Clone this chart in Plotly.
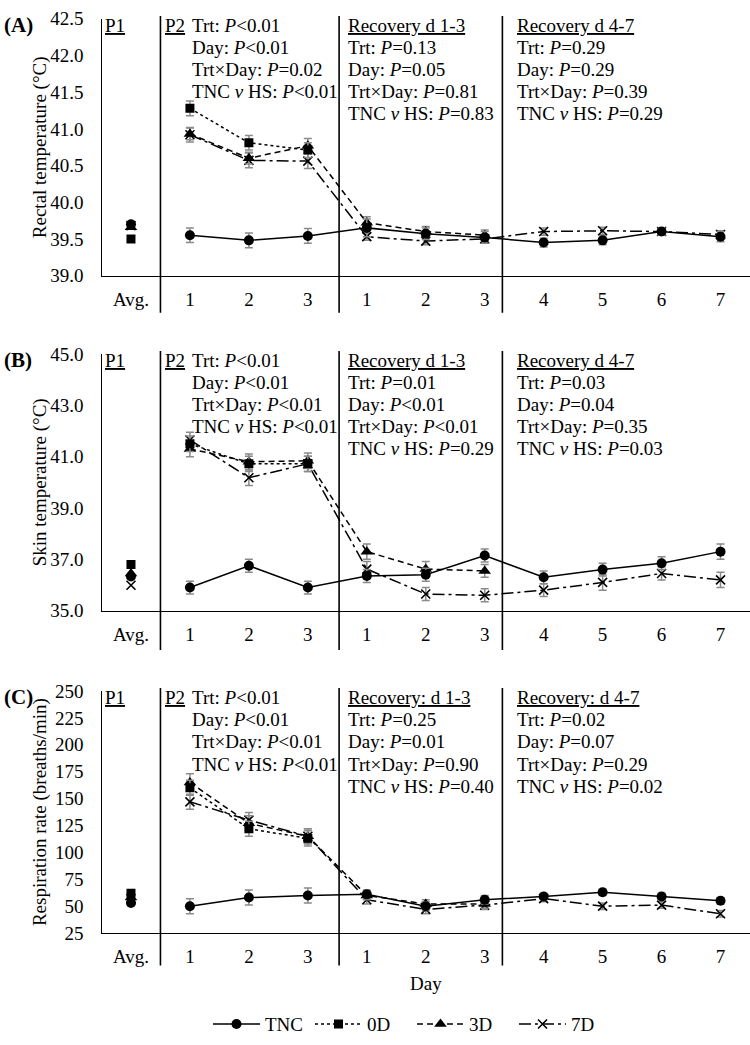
import plotly.graph_objects as go

W, H = 750, 1045
FONT = "Liberation Serif"

# ---------------- data ----------------
x_labels = ["Avg.", "1", "2", "3", "1", "2", "3", "4", "5", "6", "7"]
series_names = ["TNC", "0D", "3D", "7D"]

# Panel A - rectal temperature (°C)
rectal_p1 = [39.70, 39.50, 39.66, 39.68]          # TNC, 0D, 3D, 7D period-1 averages
rectal_tnc = [39.55, 39.48, 39.54, 39.65, 39.57, 39.52, 39.45, 39.48, 39.60, 39.53]
rectal_0d = [41.28, 40.81, 40.71]
rectal_3d = [40.93, 40.60, 40.77, 39.72, 39.60, 39.55]
rectal_7d = [40.92, 40.57, 40.56, 39.53, 39.47, 39.50, 39.60, 39.61, 39.60, 39.56]
rectal_tnc_se = [0.10, 0.10, 0.10, 0.12, 0.08, 0.08, 0.06, 0.06, 0.05, 0.07]
rectal_0d_se = [0.10, 0.10, 0.10]
rectal_3d_se = [0.08, 0.08, 0.10, 0.08, 0.07, 0.07]
rectal_7d_se = [0.10, 0.10, 0.10, 0.05, 0.05, 0.05, 0.05, 0.05, 0.05, 0.05]

# Panel B - skin temperature (°C)
skin_p1 = [36.33, 36.80, 36.45, 35.99]
skin_tnc = [35.90, 36.75, 35.90, 36.35, 36.40, 37.15, 36.30, 36.60, 36.85, 37.30]
skin_0d = [41.50, 40.72, 40.72]
skin_3d = [41.30, 40.80, 40.84, 37.30, 36.62, 36.55]
skin_7d = [41.65, 40.18, 40.72, 36.62, 35.65, 35.60, 35.80, 36.10, 36.45, 36.20]
skin_tnc_se = [0.25, 0.25, 0.25, 0.25, 0.25, 0.25, 0.25, 0.25, 0.25, 0.30]
skin_0d_se = [0.30, 0.30, 0.30]
skin_3d_se = [0.30, 0.30, 0.30, 0.30, 0.30, 0.25]
skin_7d_se = [0.30, 0.30, 0.30, 0.30, 0.25, 0.25, 0.25, 0.30, 0.25, 0.30]

# Panel C - respiration rate (breaths/min)
resp_p1 = [53, 62, 58, 57]
resp_tnc = [50, 58, 60, 61, 50, 56, 59, 63, 59, 55]
resp_0d = [160, 122, 113]
resp_3d = [165, 127, 115, 60, 52, 52]
resp_7d = [147, 130, 115, 56, 47, 51, 57, 50, 51, 43]
resp_tnc_se = [7, 7, 7, 4, 4, 4, 3, 3, 3, 3]
resp_0d_se = [7, 7, 7]
resp_3d_se = [8, 7, 7, 4, 4, 4]
resp_7d_se = [7, 7, 7, 4, 4, 4, 3, 3, 3, 3]

# statistics text
stats_labels = ["Trt", "Day", "Trt×Day", "TNC <i>v</i> HS"]
rectal_p2_p = ["<0.01", "<0.01", "=0.02", "<0.01"]
rectal_r13_p = ["=0.13", "=0.05", "=0.81", "=0.83"]
rectal_r47_p = ["=0.29", "=0.29", "=0.39", "=0.29"]
skin_p2_p = ["<0.01", "<0.01", "<0.01", "<0.01"]
skin_r13_p = ["=0.01", "<0.01", "<0.01", "=0.29"]
skin_r47_p = ["=0.03", "=0.04", "=0.35", "=0.03"]
resp_p2_p = ["<0.01", "<0.01", "<0.01", "<0.01"]
resp_r13_p = ["=0.25", "=0.01", "=0.90", "=0.40"]
resp_r47_p = ["=0.02", "=0.07", "=0.29", "=0.02"]

panel_letters = ["(A)", "(B)", "(C)"]
y_titles = ["Rectal temperature (°C)", "Skin temperature (°C)", "Respiration rate (breaths/min)"]
rec_titles = [("Recovery d 1-3", "Recovery d 4-7"),
              ("Recovery d 1-3", "Recovery d 4-7"),
              ("Recovery: d 1-3", "Recovery: d 4-7")]

panels = [
    dict(p1=rectal_p1, vals=[rectal_tnc, rectal_0d, rectal_3d, rectal_7d],
         se=[rectal_tnc_se, rectal_0d_se, rectal_3d_se, rectal_7d_se],
         p=[rectal_p2_p, rectal_r13_p, rectal_r47_p]),
    dict(p1=skin_p1, vals=[skin_tnc, skin_0d, skin_3d, skin_7d],
         se=[skin_tnc_se, skin_0d_se, skin_3d_se, skin_7d_se],
         p=[skin_p2_p, skin_r13_p, skin_r47_p]),
    dict(p1=resp_p1, vals=[resp_tnc, resp_0d, resp_3d, resp_7d],
         se=[resp_tnc_se, resp_0d_se, resp_3d_se, resp_7d_se],
         p=[resp_p2_p, resp_r13_p, resp_r47_p]),
]

# ---------------- layout geometry (pixels) ----------------
X0, X1 = 101.5, 750.0
GEO = [(9, 271), (351, 613), (695, 942)]        # top / bottom pixel of each plot area
Y_RANGES = [(39.0, 42.5, 0.5, ".1f"), (35.0, 45.0, 2.0, ".1f"), (25, 250, 25, "d")]
SEPARATORS = [0.5, 3.53, 6.3]
SEP_BOTTOM = [38, 40, 33]

STYLE = {
    "TNC": dict(symbol="circle", size=10, dash="solid", lw=0),
    "0D": dict(symbol="square", size=9, dash="dot", lw=0),
    "3D": dict(symbol="triangle-up", size=11, dash="6px,4px", lw=0),
    "7D": dict(symbol="x-thin", size=9, dash="12px,4px,3px,4px", lw=1.6),
}
DRAW_ORDER = ["7D", "3D", "0D", "TNC"]
ERR_COLOR = "#8a8a8a"


def py(p):
    return 1 - p / H


def px(p):
    return p / W


fig = go.Figure()

for i, pan in enumerate(panels):
    xa = "x" if i == 0 else f"x{i+1}"
    ya = "y" if i == 0 else f"y{i+1}"
    for name in DRAW_ORDER:
        k = series_names.index(name)
        st = STYLE[name]
        vals = pan["vals"][k]
        xs = list(range(1, len(vals) + 1))
        marker = dict(symbol=st["symbol"], size=st["size"], color="black",
                      line=dict(color="black", width=st["lw"]))
        fig.add_trace(go.Scatter(
            x=xs, y=vals, mode="lines+markers", name=name,
            xaxis=xa, yaxis=ya, showlegend=(i == 0), legendrank=k + 1,
            line=dict(color="black", width=1.5, dash=st["dash"]),
            marker=marker,
            error_y=dict(type="data", array=pan["se"][k], color=ERR_COLOR,
                         thickness=1.5, width=4),
        ))
        fig.add_trace(go.Scatter(
            x=[0], y=[pan["p1"][k]], mode="markers", name=name,
            xaxis=xa, yaxis=ya, showlegend=False, marker=marker,
        ))

layout = dict(
    width=W, height=H, margin=dict(l=0, r=0, t=0, b=0),
    paper_bgcolor="white", plot_bgcolor="white",
    font=dict(family=FONT, size=19, color="black"),
    showlegend=True,
    legend=dict(orientation="h", x=px(412), xanchor="center", y=py(1035),
                yanchor="middle", font=dict(size=19, family=FONT),
                bgcolor="rgba(0,0,0,0)", itemwidth=47,
                entrywidth=40, entrywidthmode="pixels"),
)

annotations = []
shapes = []
for i, pan in enumerate(panels):
    top, bot = GEO[i]
    sfx = "" if i == 0 else str(i + 1)
    ymin, ymax, dt, fmt = Y_RANGES[i]
    layout["xaxis" + sfx] = dict(
        domain=[px(X0), px(X1)], range=[-0.5, 10.5], anchor="y" + sfx,
        tickmode="array", tickvals=list(range(len(x_labels))), ticktext=x_labels,
        showgrid=False, zeroline=False, showline=True, linecolor="black", linewidth=1.3,
        ticks="", ticklabelstandoff=6, tickfont=dict(size=19),
    )
    layout["yaxis" + sfx] = dict(
        domain=[py(bot), py(top)], range=[ymin, ymax], anchor="x" + sfx,
        tick0=ymin, dtick=dt, tickformat=fmt,
        showgrid=False, zeroline=False, showline=True, linecolor="black", linewidth=1.3,
        ticks="", ticklabelstandoff=13, tickfont=dict(size=19),
    )
    # separators
    for sx in SEPARATORS:
        shapes.append(dict(type="line", xref="x", yref="paper", x0=sx, x1=sx,
                           y0=py(top - 3), y1=py(bot + SEP_BOTTOM[i]),
                           line=dict(color="black", width=1.6)))
    # panel letter and y title
    annotations.append(dict(text="<b>" + panel_letters[i] + "</b>", xref="paper", yref="paper",
                            x=px(2), y=py(top + 6), xanchor="left", yanchor="middle",
                            showarrow=False, font=dict(size=21)))
    annotations.append(dict(text=y_titles[i], xref="paper", yref="paper",
                            x=px(40), y=py((top + bot) / 2), xanchor="center", yanchor="middle",
                            textangle=-90, showarrow=False, font=dict(size=19)))
    rows = [top + 7 + 22.5 * r for r in range(5)]

    def add(text, xpix, ypix):
        annotations.append(dict(text=text, xref="paper", yref="paper", x=px(xpix), y=py(ypix),
                                xanchor="left", yanchor="middle", showarrow=False,
                                font=dict(size=19)))

    def stat(lbl, p):
        op = "&lt;" if p[0] == "<" else "="
        return f"{lbl}: <i>P</i>{op}{p[1:]}"

    add("<u>P1</u>", 103, rows[0])
    add("<u>P2</u>", 163, rows[0])
    for r in range(4):
        add(stat(stats_labels[r], pan["p"][0][r]), 190, rows[r])
    add("<u>" + rec_titles[i][0] + "</u>", 346, rows[0])
    add("<u>" + rec_titles[i][1] + "</u>", 515, rows[0])
    for r in range(4):
        add(stat(stats_labels[r], pan["p"][1][r]), 346, rows[r + 1])
        add(stat(stats_labels[r], pan["p"][2][r]), 515, rows[r + 1])

annotations.append(dict(text="Day", xref="paper", yref="paper", x=px(426), y=py(993),
                        xanchor="center", yanchor="middle", showarrow=False, font=dict(size=19)))
layout["annotations"] = annotations
layout["shapes"] = shapes
fig.update_layout(**layout)

fig.write_html("out.html", config={"displayModeBar": False},
               post_script="document.body.style.margin='0px';")
